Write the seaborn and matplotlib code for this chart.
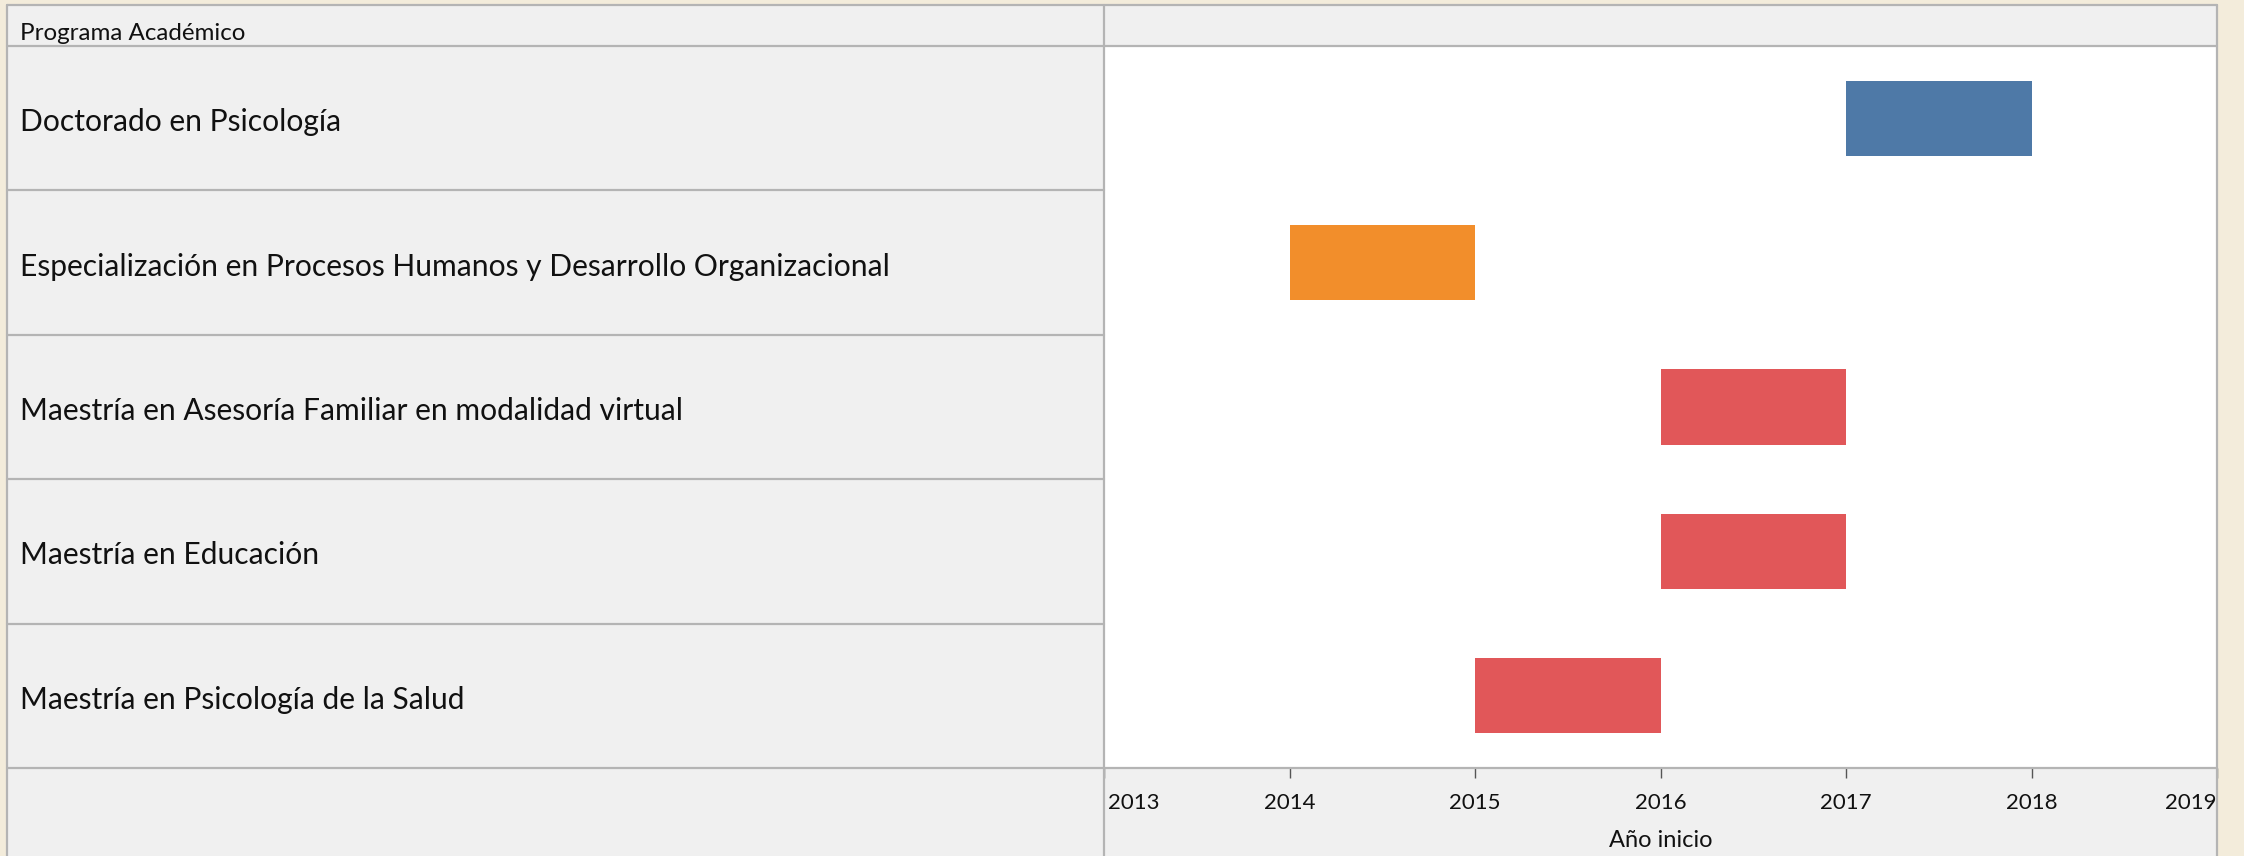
import matplotlib
matplotlib.use("Agg")
import matplotlib.pyplot as plt
from matplotlib.lines import Line2D
from matplotlib.patches import Rectangle
from matplotlib.transforms import ScaledTranslation
import seaborn as sns
import pandas as pd

# Data
programas = [
    "Doctorado en Psicología",
    "Especialización en Procesos Humanos y Desarrollo Organizacional",
    "Maestría en Asesoría Familiar en modalidad virtual",
    "Maestría en Educación",
    "Maestría en Psicología de la Salud",
]
inicio = [2017, 2014, 2016, 2016, 2015]
fin = [2018, 2015, 2017, 2017, 2016]
colores = ["#4E79A7", "#F28E2B", "#E15759", "#E15759", "#E15759"]
anios = [2013, 2014, 2015, 2016, 2017, 2018, 2019]

df = pd.DataFrame({"programa": programas, "inicio": inicio, "fin": fin})
df["duracion"] = df["fin"] - df["inicio"]

sns.set_theme(style="white")
plt.rcParams["font.family"] = ["Lato", "DejaVu Sans"]

W, H = 2244, 856
fig = plt.figure(figsize=(W / 100, H / 100), dpi=100, facecolor="#F3ECDB")


def fx(x):
    return x / W


def fy(y):
    return 1 - y / H


# layout in pixels
x0, xdiv, xend, xbord = 7, 1104, 2217, 2217
y0, yhead, ybot = 5, 46, 768
line_c = "#B4B4B4"
panel_c = "#F0F0F0"

fig.add_artist(Rectangle((fx(x0), 0), fx(xbord) - fx(x0), fy(y0),
                         transform=fig.transFigure, facecolor=panel_c,
                         edgecolor="none", zorder=0))

ax = fig.add_axes([fx(xdiv), fy(ybot), fx(xend) - fx(xdiv), fy(yhead) - fy(ybot)])
ax.set_facecolor("white")

sns.barplot(data=df, x="duracion", y="programa", hue="programa",
            palette=colores, orient="h", width=0.52, linewidth=0,
            saturation=1, legend=False, ax=ax)

# shift every bar to its start year
for p in ax.patches:
    idx = int(round(p.get_y() + p.get_height() / 2))
    p.set_x(inicio[idx])

ax.set_xlim(anios[0], anios[-1])
ax.set_ylim(len(programas) - 0.5, -0.5)
ax.set_xticks(anios)
ax.set_xticklabels([str(a) for a in anios], fontsize=16, color="#111111")
ax.set_yticks([])
ax.set_ylabel("")
ax.set_xlabel("Año inicio", fontsize=17, color="#111111", labelpad=12)
ax.tick_params(axis="x", direction="out", length=7, width=1,
               color="#555555", pad=11, bottom=True)
labels = ax.get_xticklabels()
labels[0].set_ha("left")
labels[0].set_transform(labels[0].get_transform() +
                        ScaledTranslation(0.04, 0, fig.dpi_scale_trans))
labels[-1].set_ha("right")
for s in ax.spines.values():
    s.set_visible(False)

# grid lines of the table
lines = [
    ((x0, xbord), (y0, y0)),
    ((x0, xbord), (yhead, yhead)),
    ((x0, xbord), (ybot, ybot)),
    ((x0, x0), (y0, H)),
    ((xbord, xbord), (y0, H)),
    ((xdiv, xdiv), (y0, H)),
]
row_h = (ybot - yhead) / len(programas)
for i in range(1, len(programas)):
    yy = yhead + i * row_h
    lines.append(((x0, xdiv), (yy, yy)))
for (xa, xb), (ya, yb) in lines:
    fig.add_artist(Line2D([fx(xa), fx(xb)], [fy(ya), fy(yb)],
                          transform=fig.transFigure, color=line_c, lw=1.6, zorder=5))

fig.text(fx(20), fy(33), "Programa Académico", fontsize=17.4,
         va="center", ha="left", color="#111111")
for i, prog in enumerate(programas):
    yc = yhead + (i + 0.5) * row_h + 4
    fig.text(fx(20), fy(yc), prog, fontsize=21.6, va="center", ha="left",
             color="#111111")

plt.savefig("out.png", dpi=100, facecolor=fig.get_facecolor())
